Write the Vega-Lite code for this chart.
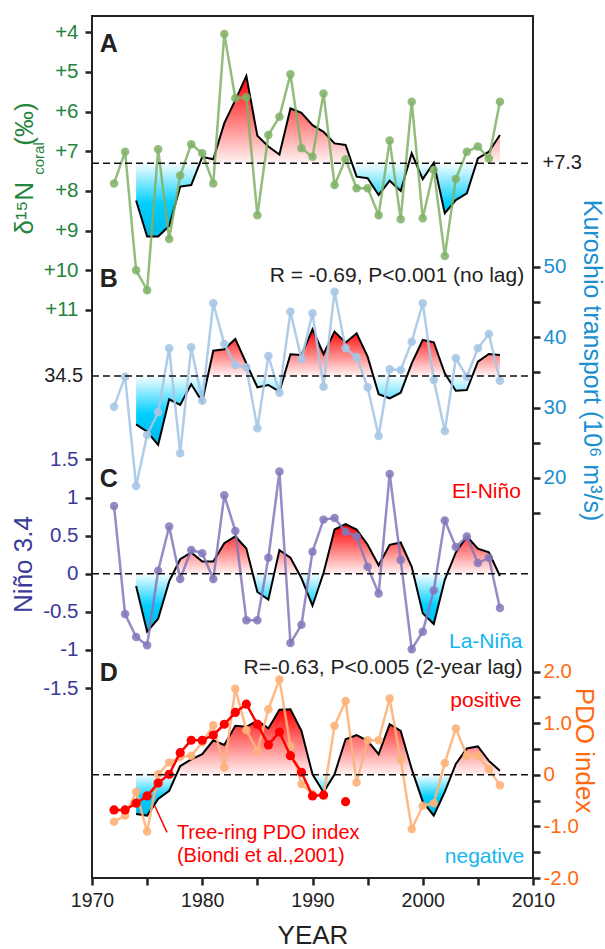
{
  "$schema": "https://vega.github.io/schema/vega-lite/v6.json",
  "width": 441,
  "height": 862,
  "autosize": "none",
  "padding": {"left": 92, "top": 16, "right": 72, "bottom": 71},
  "config": {
    "font": "Liberation Sans",
    "view": {"stroke": "#222222", "strokeWidth": 2},
    "axis": {"grid": false, "domain": false, "labelFlush": false, "labelOverlap": false, "ticks": true, "tickColor": "#222222", "tickOpacity": 1, "tickWidth": 2.5, "tickSize": 7, "labelFontSize": 20.5, "titleFontWeight": "normal", "titleFontSize": 26, "labelFont": "Liberation Sans", "titleFont": "Liberation Sans"}
  },
  "datasets": {
    "A": [
      {"year": 1972, "v": 7.81, "s": null}, {"year": 1973, "v": 7.01, "s": null},
      {"year": 1974, "v": 10.0, "s": 8.24}, {"year": 1975, "v": 10.5, "s": 9.15},
      {"year": 1976, "v": 6.95, "s": 9.15}, {"year": 1977, "v": 9.21, "s": 8.88},
      {"year": 1978, "v": 7.61, "s": 7.89}, {"year": 1979, "v": 6.82, "s": 7.85},
      {"year": 1980, "v": 7.05, "s": 7.14}, {"year": 1981, "v": 7.81, "s": 7.2},
      {"year": 1982, "v": 4.04, "s": 6.29}, {"year": 1983, "v": 5.66, "s": 5.71},
      {"year": 1984, "v": 5.64, "s": 5.1}, {"year": 1985, "v": 8.61, "s": 6.61},
      {"year": 1986, "v": 6.59, "s": 6.88}, {"year": 1987, "v": 6.13, "s": 7.08},
      {"year": 1988, "v": 5.06, "s": 5.92}, {"year": 1989, "v": 6.92, "s": 6.03},
      {"year": 1990, "v": 7.14, "s": 6.34}, {"year": 1991, "v": 5.54, "s": 6.51},
      {"year": 1992, "v": 7.85, "s": 6.8}, {"year": 1993, "v": 7.2, "s": 6.84},
      {"year": 1994, "v": 7.93, "s": 7.64}, {"year": 1995, "v": 7.93, "s": 7.68},
      {"year": 1996, "v": 8.61, "s": 8.1}, {"year": 1997, "v": 6.73, "s": 7.74},
      {"year": 1998, "v": 8.71, "s": 8.0}, {"year": 1999, "v": 5.75, "s": 7.05},
      {"year": 2000, "v": 8.69, "s": 7.7}, {"year": 2001, "v": 7.47, "s": 7.29},
      {"year": 2002, "v": 9.64, "s": 8.56}, {"year": 2003, "v": 7.7, "s": 8.23},
      {"year": 2004, "v": 7.01, "s": 8.06}, {"year": 2005, "v": 6.88, "s": 7.18},
      {"year": 2006, "v": 7.18, "s": 7.01}, {"year": 2007, "v": 5.75, "s": 6.59}
    ],
    "B": [
      {"year": 1972, "v": 30.13, "s": null}, {"year": 1973, "v": 34.4, "s": null},
      {"year": 1974, "v": 18.85, "s": 27.62}, {"year": 1975, "v": 26.1, "s": 26.57},
      {"year": 1976, "v": 29.33, "s": 24.7}, {"year": 1977, "v": 38.43, "s": 31.18},
      {"year": 1978, "v": 23.5, "s": 30.37}, {"year": 1979, "v": 38.57, "s": 33.31},
      {"year": 1980, "v": 30.98, "s": 30.84}, {"year": 1981, "v": 44.84, "s": 38.09},
      {"year": 1982, "v": 39.05, "s": 38.29}, {"year": 1983, "v": 36.06, "s": 39.76},
      {"year": 1984, "v": 35.73, "s": 36.3}, {"year": 1985, "v": 27.06, "s": 32.89},
      {"year": 1986, "v": 37.34, "s": 33.22}, {"year": 1987, "v": 32.12, "s": 32.26},
      {"year": 1988, "v": 43.64, "s": 37.58}, {"year": 1989, "v": 36.87, "s": 37.48},
      {"year": 1990, "v": 43.41, "s": 41.14}, {"year": 1991, "v": 32.97, "s": 37.62},
      {"year": 1992, "v": 46.49, "s": 40.8}, {"year": 1993, "v": 38.43, "s": 39.23},
      {"year": 1994, "v": 37.15, "s": 40.57}, {"year": 1995, "v": 32.89, "s": 37.24},
      {"year": 1996, "v": 25.96, "s": 31.89}, {"year": 1997, "v": 35.45, "s": 31.32},
      {"year": 1998, "v": 35.35, "s": 32.12}, {"year": 1999, "v": 39.37, "s": 36.3},
      {"year": 2000, "v": 44.84, "s": 39.62}, {"year": 2001, "v": 33.93, "s": 39.29},
      {"year": 2002, "v": 26.67, "s": 34.88}, {"year": 2003, "v": 37.01, "s": 32.4},
      {"year": 2004, "v": 34.4, "s": 32.5}, {"year": 2005, "v": 38.43, "s": 36.53},
      {"year": 2006, "v": 40.47, "s": 37.62}, {"year": 2007, "v": 33.83, "s": 37.48}
    ],
    "C": [
      {"year": 1972, "v": 0.89, "s": null}, {"year": 1973, "v": -0.53, "s": null},
      {"year": 1974, "v": -0.83, "s": -0.16}, {"year": 1975, "v": -0.94, "s": -0.76},
      {"year": 1976, "v": 0.04, "s": -0.59}, {"year": 1977, "v": 0.62, "s": -0.1},
      {"year": 1978, "v": -0.07, "s": 0.19}, {"year": 1979, "v": 0.31, "s": 0.28},
      {"year": 1980, "v": 0.27, "s": 0.16}, {"year": 1981, "v": -0.07, "s": 0.16},
      {"year": 1982, "v": 1.03, "s": 0.4}, {"year": 1983, "v": 0.56, "s": 0.49},
      {"year": 1984, "v": -0.61, "s": 0.33}, {"year": 1985, "v": -0.61, "s": -0.24},
      {"year": 1986, "v": 0.21, "s": -0.34}, {"year": 1987, "v": 1.34, "s": 0.31},
      {"year": 1988, "v": -0.91, "s": 0.21}, {"year": 1989, "v": -0.67, "s": -0.06},
      {"year": 1990, "v": 0.29, "s": -0.42}, {"year": 1991, "v": 0.71, "s": 0.01},
      {"year": 1992, "v": 0.73, "s": 0.58}, {"year": 1993, "v": 0.55, "s": 0.65},
      {"year": 1994, "v": 0.49, "s": 0.58}, {"year": 1995, "v": 0.09, "s": 0.38},
      {"year": 1996, "v": -0.26, "s": 0.11}, {"year": 1997, "v": 1.31, "s": 0.38},
      {"year": 1998, "v": 0.18, "s": 0.41}, {"year": 1999, "v": -0.99, "s": 0.09},
      {"year": 2000, "v": -0.76, "s": -0.52}, {"year": 2001, "v": -0.22, "s": -0.66},
      {"year": 2002, "v": 0.7, "s": -0.08}, {"year": 2003, "v": 0.35, "s": 0.28},
      {"year": 2004, "v": 0.49, "s": 0.49}, {"year": 2005, "v": 0.14, "s": 0.33},
      {"year": 2006, "v": 0.21, "s": 0.28}, {"year": 2007, "v": -0.45, "s": -0.03}
    ],
    "D": [
      {"year": 1972, "v": -0.91, "s": null}, {"year": 1973, "v": -0.79, "s": null},
      {"year": 1974, "v": -0.33, "s": -0.76}, {"year": 1975, "v": -1.1, "s": -0.79},
      {"year": 1976, "v": 0.01, "s": -0.47}, {"year": 1977, "v": 0.24, "s": -0.31},
      {"year": 1978, "v": 0.35, "s": 0.17}, {"year": 1979, "v": 0.37, "s": 0.3},
      {"year": 1980, "v": 0.63, "s": 0.4}, {"year": 1981, "v": 0.96, "s": 0.67},
      {"year": 1982, "v": 0.14, "s": 0.58}, {"year": 1983, "v": 1.67, "s": 0.95},
      {"year": 1984, "v": 0.87, "s": 0.93}, {"year": 1985, "v": 0.46, "s": 1.05},
      {"year": 1986, "v": 1.27, "s": 0.9}, {"year": 1987, "v": 1.85, "s": 1.26},
      {"year": 1988, "v": 0.56, "s": 1.27}, {"year": 1989, "v": -0.18, "s": 0.85},
      {"year": 1990, "v": -0.37, "s": 0.01}, {"year": 1991, "v": -0.41, "s": -0.34},
      {"year": 1992, "v": 0.95, "s": 0.01}, {"year": 1993, "v": 1.43, "s": 0.69},
      {"year": 1994, "v": -0.15, "s": 0.77}, {"year": 1995, "v": 0.67, "s": 0.66},
      {"year": 1996, "v": 0.67, "s": 0.4}, {"year": 1997, "v": 1.48, "s": 0.98},
      {"year": 1998, "v": 0.3, "s": 0.85}, {"year": 1999, "v": -1.05, "s": 0.11},
      {"year": 2000, "v": -0.6, "s": -0.52}, {"year": 2001, "v": -0.55, "s": -0.79},
      {"year": 2002, "v": 0.23, "s": -0.33}, {"year": 2003, "v": 0.9, "s": 0.21},
      {"year": 2004, "v": 0.37, "s": 0.51}, {"year": 2005, "v": 0.37, "s": 0.55},
      {"year": 2006, "v": 0.11, "s": 0.27}, {"year": 2007, "v": -0.2, "s": 0.08}
    ],
    "T": [
      {"year": 1972, "t": -0.68, "seg": "a"}, {"year": 1973, "t": -0.68, "seg": "a"},
      {"year": 1974, "t": -0.55, "seg": "a"}, {"year": 1975, "t": -0.41, "seg": "a"},
      {"year": 1976, "t": -0.16, "seg": "a"}, {"year": 1977, "t": 0.01, "seg": "a"},
      {"year": 1978, "t": 0.43, "seg": "a"}, {"year": 1979, "t": 0.67, "seg": "a"},
      {"year": 1980, "t": 0.67, "seg": "a"}, {"year": 1981, "t": 0.77, "seg": "a"},
      {"year": 1982, "t": 0.98, "seg": "a"}, {"year": 1983, "t": 1.21, "seg": "a"},
      {"year": 1984, "t": 1.37, "seg": "a"}, {"year": 1985, "t": 0.98, "seg": "a"},
      {"year": 1986, "t": 0.58, "seg": "a"}, {"year": 1987, "t": 0.83, "seg": "a"},
      {"year": 1988, "t": 0.37, "seg": "a"}, {"year": 1989, "t": 0.05, "seg": "a"},
      {"year": 1990, "t": -0.41, "seg": "a"}, {"year": 1991, "t": -0.39, "seg": "a"},
      {"year": 1993, "t": -0.52, "seg": "b"}
    ]
  },
  "layer": [
    {"data": {"name": "A"}, "mark": {"type": "area", "color": {"gradient": "linear", "x1": 0, "y1": 0, "x2": 0, "y2": 1, "stops": [{"offset": 0, "color": "#ff0000"}, {"offset": 0.5426, "color": "#fff3f3"}, {"offset": 0.5436, "color": "#f6fdff"}, {"offset": 0.794, "color": "#00d0ff"}, {"offset": 1, "color": "#00b8e8"}]}},
     "encoding": {"x": {"field": "year", "type": "quantitative", "scale": {"domain": [1970, 2010], "nice": false, "zero": false},
         "axis": {"orient": "bottom", "values": [1970, 1975, 1980, 1985, 1990, 1995, 2000, 2005, 2010], "labelExpr": "datum.value % 10 === 0 ? '' + datum.value : ''", "labelFontSize": 19.5, "labelColor": "#222222", "labelPadding": 6, "ticks": true, "tickSize": 7, "tickWidth": 2.5, "tickColor": "#222222", "title": "YEAR", "titleColor": "#222222", "titleFontSize": 26, "titleBaseline": "alphabetic", "titleY": 65}},
       "y": {"field": "s", "type": "quantitative", "scale": {"domain": [3.589, 25.32], "reverse": true, "nice": false, "zero": false}, "axis": null}, "y2": {"datum": 7.3}}},
    {"data": {"name": "A"}, "mark": {"type": "line", "color": "#000000", "strokeWidth": 2},
     "encoding": {"x": {"field": "year", "type": "quantitative"},
       "y": {"field": "s", "type": "quantitative", "scale": {"domain": [3.589, 25.32], "reverse": true, "nice": false, "zero": false}, "axis": null}}},
    {"data": {"name": "A"}, "mark": {"type": "line", "color": "#7fb266", "strokeWidth": 2.5, "opacity": 0.85},
     "encoding": {"x": {"field": "year", "type": "quantitative"},
       "y": {"field": "v", "type": "quantitative", "scale": {"domain": [3.589, 25.32], "reverse": true, "nice": false, "zero": false}, "axis": null}}},
    {"data": {"name": "A"}, "mark": {"type": "point", "filled": true, "size": 72, "color": "#7fb266", "opacity": 0.85},
     "encoding": {
       "x": {"field": "year", "type": "quantitative"},
       "y": {"field": "v", "type": "quantitative", "scale": {"domain": [3.589, 25.32], "reverse": true, "nice": false, "zero": false},
         "axis": {"orient": "left", "values": [4, 5, 6, 7, 8, 9, 10, 11], "labelExpr": "'+' + datum.value", "labelColor": "#24843c", "labelPadding": 7, "ticks": true, "tickSize": 7, "tickWidth": 2.5, "tickColor": "#222222", "title": "δ¹⁵N\u00a0\u00a0\u00a0\u00a0\u00a0(‰)", "titleColor": "#24843c", "titleX": -68, "titleY": 152, "titleAngle": 270, "titleAlign": "center", "titleBaseline": "middle"}}}},
    {"data": {"values": [{}]}, "mark": {"type": "rule", "color": "#111111", "strokeWidth": 1.5, "strokeDash": [7, 4]},
     "encoding": {"x": {"datum": 1970, "type": "quantitative"}, "x2": {"datum": 2010},
       "y": {"datum": 7.3, "type": "quantitative", "scale": {"domain": [3.589, 25.32], "reverse": true, "nice": false, "zero": false}, "axis": null}}},
    {"data": {"values": [{"year": 1970.7, "v": 4.49, "label": "A"}]}, "mark": {"type": "text", "fontSize": 25, "fontWeight": "bold", "align": "left", "baseline": "alphabetic", "color": "#222222"},
     "encoding": {"x": {"field": "year", "type": "quantitative"},
       "y": {"field": "v", "type": "quantitative", "scale": {"domain": [3.589, 25.32], "reverse": true, "nice": false, "zero": false}, "axis": null}, "text": {"field": "label"}}},
    {"data": {"values": [{"year": 2010.86, "v": 7.3, "label": "+7.3"}]}, "mark": {"type": "text", "fontSize": 20, "align": "left", "baseline": "middle", "color": "#222222"},
     "encoding": {"x": {"field": "year", "type": "quantitative"},
       "y": {"field": "v", "type": "quantitative", "scale": {"domain": [3.589, 25.32], "reverse": true, "nice": false, "zero": false},
         "axis": {"orient": "left", "labels": false, "ticks": false, "values": [], "title": "coral", "titleColor": "#24843c", "titleFontSize": 15, "titleX": -54, "titleY": 142, "titleAngle": 270, "titleAlign": "center", "titleBaseline": "middle"}},
       "text": {"field": "label"}}},

    {"data": {"name": "B"}, "mark": {"type": "area", "color": {"gradient": "linear", "x1": 0, "y1": 0, "x2": 0, "y2": 1, "stops": [{"offset": 0, "color": "#ff0000"}, {"offset": 0.404, "color": "#fff3f3"}, {"offset": 0.405, "color": "#f6fdff"}, {"offset": 0.732, "color": "#00d0ff"}, {"offset": 1, "color": "#00b8e8"}]}},
     "encoding": {"x": {"field": "year", "type": "quantitative"},
       "y": {"field": "s", "type": "quantitative", "scale": {"domain": [-36.91, 85.7], "nice": false, "zero": false}, "axis": null}, "y2": {"datum": 34.5}}},
    {"data": {"name": "B"}, "mark": {"type": "line", "color": "#000000", "strokeWidth": 2},
     "encoding": {"x": {"field": "year", "type": "quantitative"},
       "y": {"field": "s", "type": "quantitative", "scale": {"domain": [-36.91, 85.7], "nice": false, "zero": false}, "axis": null}}},
    {"data": {"name": "B"}, "mark": {"type": "line", "color": "#a6c6e6", "strokeWidth": 2.5, "opacity": 0.9},
     "encoding": {"x": {"field": "year", "type": "quantitative"},
       "y": {"field": "v", "type": "quantitative", "scale": {"domain": [-36.91, 85.7], "nice": false, "zero": false}, "axis": null}}},
    {"data": {"name": "B"}, "mark": {"type": "point", "filled": true, "size": 72, "color": "#a6c6e6", "opacity": 0.9},
     "encoding": {"x": {"field": "year", "type": "quantitative"},
       "y": {"field": "v", "type": "quantitative", "scale": {"domain": [-36.91, 85.7], "nice": false, "zero": false},
         "axis": {"orient": "right", "values": [15, 20, 25, 30, 35, 40, 45, 50], "labelExpr": "datum.value % 10 === 0 ? '' + datum.value : ''", "labelColor": "#1b8fd0", "labelPadding": 3, "ticks": true, "tickSize": 7, "tickWidth": 2.5, "tickColor": "#222222", "title": "Kuroshio transport (10⁶ m³/s)", "titleColor": "#1b8fd0", "titleFontSize": 25, "titleX": 58, "titleY": 344, "titleAngle": 90, "titleAlign": "center", "titleBaseline": "middle"}}}},
    {"data": {"values": [{}]}, "mark": {"type": "rule", "color": "#111111", "strokeWidth": 1.5, "strokeDash": [7, 4]},
     "encoding": {"x": {"datum": 1970, "type": "quantitative"}, "x2": {"datum": 2010},
       "y": {"datum": 34.5, "type": "quantitative", "scale": {"domain": [-36.91, 85.7], "nice": false, "zero": false}, "axis": null}}},
    {"data": {"values": [{"year": 1970.7, "v": 47.16, "label": "B"}]}, "mark": {"type": "text", "fontSize": 25, "fontWeight": "bold", "align": "left", "baseline": "alphabetic", "color": "#222222"},
     "encoding": {"x": {"field": "year", "type": "quantitative"},
       "y": {"field": "v", "type": "quantitative", "scale": {"domain": [-36.91, 85.7], "nice": false, "zero": false}, "axis": null}, "text": {"field": "label"}}},
    {"data": {"values": [{"year": 2009.2, "v": 47.91, "label": "R = -0.69, P<0.001 (no lag)"}]}, "mark": {"type": "text", "fontSize": 21, "align": "right", "baseline": "alphabetic", "color": "#222222"},
     "encoding": {"x": {"field": "year", "type": "quantitative"},
       "y": {"field": "v", "type": "quantitative", "scale": {"domain": [-36.91, 85.7], "nice": false, "zero": false}, "axis": null}, "text": {"field": "label"}}},
    {"data": {"values": [{"year": 1969.2, "v": 34.5, "label": "34.5"}]}, "mark": {"type": "text", "fontSize": 20, "align": "right", "baseline": "middle", "color": "#222222"},
     "encoding": {"x": {"field": "year", "type": "quantitative"},
       "y": {"field": "v", "type": "quantitative", "scale": {"domain": [-36.91, 85.7], "nice": false, "zero": false}, "axis": null}, "text": {"field": "label"}}},

    {"data": {"name": "C"}, "mark": {"type": "area", "color": {"gradient": "linear", "x1": 0, "y1": 0, "x2": 0, "y2": 1, "stops": [{"offset": 0, "color": "#ff0000"}, {"offset": 0.461, "color": "#fff3f3"}, {"offset": 0.462, "color": "#f6fdff"}, {"offset": 0.757, "color": "#00d0ff"}, {"offset": 1, "color": "#00b8e8"}]}},
     "encoding": {"x": {"field": "year", "type": "quantitative"},
       "y": {"field": "s", "type": "quantitative", "scale": {"domain": [-3.993, 7.319], "nice": false, "zero": false}, "axis": null}, "y2": {"datum": 0}}},
    {"data": {"name": "C"}, "mark": {"type": "line", "color": "#000000", "strokeWidth": 2},
     "encoding": {"x": {"field": "year", "type": "quantitative"},
       "y": {"field": "s", "type": "quantitative", "scale": {"domain": [-3.993, 7.319], "nice": false, "zero": false}, "axis": null}}},
    {"data": {"name": "C"}, "mark": {"type": "line", "color": "#8477bb", "strokeWidth": 2.5, "opacity": 0.85},
     "encoding": {"x": {"field": "year", "type": "quantitative"},
       "y": {"field": "v", "type": "quantitative", "scale": {"domain": [-3.993, 7.319], "nice": false, "zero": false}, "axis": null}}},
    {"data": {"name": "C"}, "mark": {"type": "point", "filled": true, "size": 72, "color": "#8477bb", "opacity": 0.85},
     "encoding": {"x": {"field": "year", "type": "quantitative"},
       "y": {"field": "v", "type": "quantitative", "scale": {"domain": [-3.993, 7.319], "nice": false, "zero": false},
         "axis": {"orient": "left", "values": [-1.5, -1, -0.5, 0, 0.5, 1, 1.5], "labelExpr": "'' + datum.value", "labelColor": "#3a3a98", "labelPadding": 7, "ticks": true, "tickSize": 7, "tickWidth": 2.5, "tickColor": "#222222", "title": "Niño 3.4", "titleColor": "#3a3a98", "titleX": -69, "titleY": 548, "titleAngle": 270, "titleAlign": "center", "titleBaseline": "middle"}}}},
    {"data": {"values": [{}]}, "mark": {"type": "rule", "color": "#111111", "strokeWidth": 1.5, "strokeDash": [7, 4]},
     "encoding": {"x": {"datum": 1970, "type": "quantitative"}, "x2": {"datum": 2010},
       "y": {"datum": 0, "type": "quantitative", "scale": {"domain": [-3.993, 7.319], "nice": false, "zero": false}, "axis": null}}},
    {"data": {"values": [{"year": 1970.7, "v": 1.138, "label": "C"}]}, "mark": {"type": "text", "fontSize": 25, "fontWeight": "bold", "align": "left", "baseline": "alphabetic", "color": "#222222"},
     "encoding": {"x": {"field": "year", "type": "quantitative"},
       "y": {"field": "v", "type": "quantitative", "scale": {"domain": [-3.993, 7.319], "nice": false, "zero": false}, "axis": null}, "text": {"field": "label"}}},
    {"data": {"values": [{"year": 2008.9, "v": 0.997, "label": "El-Niño"}]}, "mark": {"type": "text", "fontSize": 21, "align": "right", "baseline": "alphabetic", "color": "#ff0000"},
     "encoding": {"x": {"field": "year", "type": "quantitative"},
       "y": {"field": "v", "type": "quantitative", "scale": {"domain": [-3.993, 7.319], "nice": false, "zero": false}, "axis": null}, "text": {"field": "label"}}},
    {"data": {"values": [{"year": 2009.05, "v": -0.975, "label": "La-Niña"}]}, "mark": {"type": "text", "fontSize": 21, "align": "right", "baseline": "alphabetic", "color": "#13b6ee"},
     "encoding": {"x": {"field": "year", "type": "quantitative"},
       "y": {"field": "v", "type": "quantitative", "scale": {"domain": [-3.993, 7.319], "nice": false, "zero": false}, "axis": null}, "text": {"field": "label"}}},

    {"data": {"name": "D"}, "mark": {"type": "area", "color": {"gradient": "linear", "x1": 0, "y1": 0, "x2": 0, "y2": 1, "stops": [{"offset": 0, "color": "#ff0000"}, {"offset": 0.6165, "color": "#fff3f3"}, {"offset": 0.6175, "color": "#f6fdff"}, {"offset": 0.827, "color": "#00d0ff"}, {"offset": 1, "color": "#00b8e8"}]}},
     "encoding": {"x": {"field": "year", "type": "quantitative"},
       "y": {"field": "s", "type": "quantitative", "scale": {"domain": [-2.0, 14.709], "nice": false, "zero": false}, "axis": null}, "y2": {"datum": 0}}},
    {"data": {"name": "D"}, "mark": {"type": "line", "color": "#000000", "strokeWidth": 2},
     "encoding": {"x": {"field": "year", "type": "quantitative"},
       "y": {"field": "s", "type": "quantitative", "scale": {"domain": [-2.0, 14.709], "nice": false, "zero": false}, "axis": null}}},
    {"data": {"name": "D"}, "mark": {"type": "line", "color": "#fdb27a", "strokeWidth": 2.5, "opacity": 0.9},
     "encoding": {"x": {"field": "year", "type": "quantitative"},
       "y": {"field": "v", "type": "quantitative", "scale": {"domain": [-2.0, 14.709], "nice": false, "zero": false}, "axis": null}}},
    {"data": {"name": "D"}, "mark": {"type": "point", "filled": true, "size": 72, "color": "#fdb27a", "opacity": 0.9},
     "encoding": {"x": {"field": "year", "type": "quantitative"},
       "y": {"field": "v", "type": "quantitative", "scale": {"domain": [-2.0, 14.709], "nice": false, "zero": false},
         "axis": {"orient": "right", "values": [-2, -1.5, -1, -0.5, 0, 0.5, 1, 1.5, 2], "labelExpr": "datum.value % 1 !== 0 ? '' : datum.value === 0 ? '0' : datum.value + '.0'", "labelColor": "#ff6a10", "labelPadding": 3, "ticks": true, "tickSize": 7, "tickWidth": 2.5, "tickColor": "#222222", "title": "PDO index", "titleColor": "#ff6a10", "titleX": 50, "titleY": 734, "titleAngle": 90, "titleAlign": "center", "titleBaseline": "middle"}}}},
    {"data": {"name": "T"}, "mark": {"type": "line", "color": "#ff0000", "strokeWidth": 2.5},
     "encoding": {"x": {"field": "year", "type": "quantitative"},
       "y": {"field": "t", "type": "quantitative", "scale": {"domain": [-2.0, 14.709], "nice": false, "zero": false}, "axis": null}, "detail": {"field": "seg"}}},
    {"data": {"name": "T"}, "mark": {"type": "point", "filled": true, "size": 85, "color": "#ff0000", "opacity": 1},
     "encoding": {"x": {"field": "year", "type": "quantitative"},
       "y": {"field": "t", "type": "quantitative", "scale": {"domain": [-2.0, 14.709], "nice": false, "zero": false}, "axis": null}}},
    {"data": {"values": [{}]}, "mark": {"type": "rule", "color": "#111111", "strokeWidth": 1.5, "strokeDash": [7, 4]},
     "encoding": {"x": {"datum": 1970, "type": "quantitative"}, "x2": {"datum": 2010},
       "y": {"datum": 0, "type": "quantitative", "scale": {"domain": [-2.0, 14.709], "nice": false, "zero": false}, "axis": null}}},
    {"data": {"values": [{"year": 1975.69, "v": -0.6, "year2": 1976.8, "v2": -1.115}]}, "mark": {"type": "rule", "color": "#ff0000", "strokeWidth": 1.5},
     "encoding": {"x": {"field": "year", "type": "quantitative"}, "x2": {"field": "year2"},
       "y": {"field": "v", "type": "quantitative", "scale": {"domain": [-2.0, 14.709], "nice": false, "zero": false}, "axis": null}, "y2": {"field": "v2"}}},
    {"data": {"values": [{"year": 1970.7, "v": 1.814, "label": "D"}]}, "mark": {"type": "text", "fontSize": 25, "fontWeight": "bold", "align": "left", "baseline": "alphabetic", "color": "#222222"},
     "encoding": {"x": {"field": "year", "type": "quantitative"},
       "y": {"field": "v", "type": "quantitative", "scale": {"domain": [-2.0, 14.709], "nice": false, "zero": false}, "axis": null}, "text": {"field": "label"}}},
    {"data": {"values": [{"year": 2009.05, "v": 1.95, "label": "R=-0.63, P<0.005 (2-year lag)"}]}, "mark": {"type": "text", "fontSize": 21, "align": "right", "baseline": "alphabetic", "color": "#222222"},
     "encoding": {"x": {"field": "year", "type": "quantitative"},
       "y": {"field": "v", "type": "quantitative", "scale": {"domain": [-2.0, 14.709], "nice": false, "zero": false}, "axis": null}, "text": {"field": "label"}}},
    {"data": {"values": [{"year": 2008.96, "v": 1.311, "label": "positive"}]}, "mark": {"type": "text", "fontSize": 21, "align": "right", "baseline": "alphabetic", "color": "#ff0000"},
     "encoding": {"x": {"field": "year", "type": "quantitative"},
       "y": {"field": "v", "type": "quantitative", "scale": {"domain": [-2.0, 14.709], "nice": false, "zero": false}, "axis": null}, "text": {"field": "label"}}},
    {"data": {"values": [{"year": 2009.2, "v": -1.71, "label": "negative"}]}, "mark": {"type": "text", "fontSize": 21, "align": "right", "baseline": "alphabetic", "color": "#13b6ee"},
     "encoding": {"x": {"field": "year", "type": "quantitative"},
       "y": {"field": "v", "type": "quantitative", "scale": {"domain": [-2.0, 14.709], "nice": false, "zero": false}, "axis": null}, "text": {"field": "label"}}},
    {"data": {"values": [{"year": 1977.7, "v": -1.245, "label": "Tree-ring PDO index"}, {"year": 1977.7, "v": -1.696, "label": "(Biondi et al.,2001)"}]}, "mark": {"type": "text", "fontSize": 20, "align": "left", "baseline": "alphabetic", "color": "#ff0000"},
     "encoding": {"x": {"field": "year", "type": "quantitative"},
       "y": {"field": "v", "type": "quantitative", "scale": {"domain": [-2.0, 14.709], "nice": false, "zero": false}, "axis": null}, "text": {"field": "label"}}}
  ],
  "resolve": {"scale": {"y": "independent"}}
}
